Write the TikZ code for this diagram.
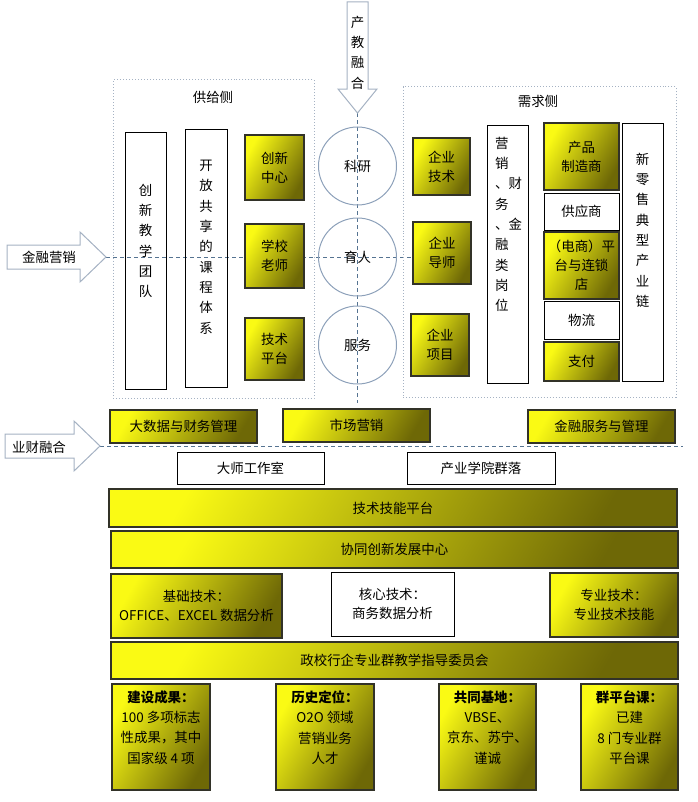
\documentclass[tikz,border=0pt]{standalone}
\usepackage{fontspec}
\setmainfont{Noto Sans CJK SC}
\usetikzlibrary{positioning,backgrounds}
\definecolor{ylight}{RGB}{250,250,20}
\definecolor{ydark}{RGB}{110,104,6}
\definecolor{dashblue}{RGB}{85,115,145}
\definecolor{ringgray}{RGB}{140,160,185}
\definecolor{framegray}{RGB}{165,178,195}
\definecolor{boxline}{RGB}{50,50,40}
\tikzset{
  wh/.style 2 args={minimum width=#1bp, minimum height=#2bp},
  ybox/.style={draw=boxline, line width=1.2bp, left color=ylight, right color=ydark, shading angle=60, inner sep=0pt, align=center},
  wbox/.style={draw=black, line width=1bp, inner sep=0pt, align=center},
  ring/.style={circle, draw=ringgray, line width=1bp, minimum size=78bp, inner sep=0pt},
  sidebox/.style={draw=framegray, dotted, line width=1bp, inner sep=0pt},
  dashline/.style={draw=dashblue, line width=1bp, dash pattern=on 4bp off 3bp},
  bigarrow/.style={draw=framegray, line width=1bp, fill=white},
  vtext/.style={align=center, font=\fontsize{13.5}{20.4}\selectfont, inner sep=0pt},
}
\begin{document}
\begin{tikzpicture}[x=1bp, y=-1bp, font=\fontsize{13.5}{19}\selectfont]
\useasboundingbox (0,0) rectangle (698,802);

\draw[bigarrow] (347,2) -- (368,2) -- (368,89) -- (377,89) -- (357.5,113) -- (338,89) -- (347,89) -- cycle;
\coordinate (jcTip) at (357.5,113);
\coordinate (jcEnd) at (357.5,403);
\node[vtext] (chanjiao) at (357.5,52.5) {产\\教\\融\\合};

\draw[bigarrow] (7,245) -- (80,245) -- (80,232) -- (106,257) -- (80,282) -- (80,269) -- (7,269) -- cycle;
\coordinate (jrTip) at (106,257);
\node (jryx) at (49,257) {金融营销};

\draw[bigarrow] (5,434) -- (74,434) -- (74,421) -- (100,446) -- (74,471) -- (74,458) -- (5,458) -- cycle;
\coordinate (ycTip) at (100,446);
\coordinate (ycEnd) at (683,446);
\node (ycrh) at (39,447) {业财融合};

\node[sidebox, wh={201}{318}] (gongji) at (213.5,239) {};
\node (gongjiT) at (213,97) {供给侧};
\node[sidebox, wh={273}{310}] (xuqiu) at (539.5,242) {};
\node (xuqiuT) at (538,101) {需求侧};

\node[wbox, wh={41}{256}] (tuandui) at (145.5,261) {};
\node[vtext] (tuanduiT) at (145.5,241) {创\\新\\教\\学\\团\\队};
\node[wbox, wh={42}{257}] (kecheng) at (206,258.5) {};
\node[vtext] (kechengT) at (206,247) {开\\放\\共\\享\\的\\课\\程\\体\\系};
\node[ybox, wh={59}{65}] (chuangxin) at (274.5,167.5) {创新\\中心};
\node[ybox, wh={59}{64}] (laoshi) at (274.5,256) {学校\\老师};
\node[ybox, wh={59}{62}] (pingtai) at (274.5,349) {技术\\平台};

\node[ring] (keyan) at (357.5,166) {科研};
\node[ring] (yuren) at (357.5,257) {育人};
\node[ring] (fuwu) at (357.5,345) {服务};

\node[ybox, wh={57}{57}] (qyjishu) at (441.5,166.5) {企业\\技术};
\node[ybox, wh={58}{62}] (qydaoshi) at (442,253) {企业\\导师};
\node[ybox, wh={58}{62}] (qyxiangmu) at (440,345) {企业\\项目};
\node[wbox, wh={41}{257}] (gangwei) at (507.5,254.5) {};
\node[vtext, align=left, anchor=west] (gangweiT) at (495,224.5) {营\\销\\、财\\务\\、金\\融\\类\\岗\\位};
\node[ybox, wh={75}{67}] (zhizao) at (581.5,156.5) {产品\\制造商};
\node[wbox, wh={75}{37}] (gongying) at (581.5,211.5) {供应商};
\node[ybox, wh={75}{67}] (dianshang) at (581.5,265.5) {（电商）平\\台与连锁\\店};
\node[wbox, wh={75}{38}] (wuliu) at (581.5,320) {物流};
\node[ybox, wh={75}{39}] (zhifu) at (581.5,361.5) {支付};
\node[wbox, wh={41}{257}] (lingshou) at (642.5,252.5) {};
\node[vtext] (lingshouT) at (642.5,230) {新\\零\\售\\典\\型\\产\\业\\链};

\node[ybox, wh={147}{33}] (dashuju) at (183.5,426.5) {大数据与财务管理};
\node[ybox, wh={147}{33}] (shichang) at (356.5,425.5) {市场营销};
\node[ybox, wh={147}{33}] (jinrong) at (601.5,426.5) {金融服务与管理};
\node[wbox, wh={147}{32}] (dashi) at (250.5,468) {大师工作室};
\node[wbox, wh={148}{32}] (xueyuan) at (481,468) {产业学院群落};
\node[ybox, wh={568}{38}] (jineng) at (393,508) {技术技能平台};
\node[ybox, wh={567}{37}] (xietong) at (394.5,549.5) {协同创新发展中心};
\node[ybox, wh={171}{64}] (jichu) at (196.5,606) {基础技术：\\OFFICE、EXCEL 数据分析};
\node[wbox, wh={123}{64}] (hexin) at (392.5,604) {核心技术：\\商务数据分析};
\node[ybox, wh={128}{64}] (zhuanye) at (614,605) {专业技术：\\专业技术技能};
\node[ybox, wh={567}{37}] (zhidao) at (394.5,660.5) {政校行企专业群教学指导委员会};

\node[ybox, wh={98}{106}] (chengguo) at (161,737) {};
\node[vtext, below=7bp of chengguo.north] (chengguoT) {{\bfseries 建设成果：}\\100 多项标志\\性成果，其中\\国家级 4 项};
\node[ybox, wh={98}{106}] (dingwei) at (325,737) {};
\node[vtext, below=7bp of dingwei.north] (dingweiT) {{\bfseries 历史定位：}\\O2O 领域\\营销业务\\人才};
\node[ybox, wh={97}{106}] (jidi) at (487.5,737) {};
\node[vtext, below=7bp of jidi.north] (jidiT) {{\bfseries 共同基地：}\\VBSE、\\京东、苏宁、\\谨诚};
\node[ybox, wh={97}{106}] (pingtaike) at (629.5,737) {};
\node[vtext, below=7bp of pingtaike.north] (pingtaikeT) {{\bfseries 群平台课：}\\已建\\8 门专业群\\平台课};

\begin{scope}[on background layer]
\draw[dashline] (jcTip) -- (jcEnd);
\draw[dashline] (jrTip) -- (jrTip -| qydaoshi.west);
\draw[dashline] (ycTip) -- (ycEnd);
\end{scope}
\end{tikzpicture}
\end{document}
